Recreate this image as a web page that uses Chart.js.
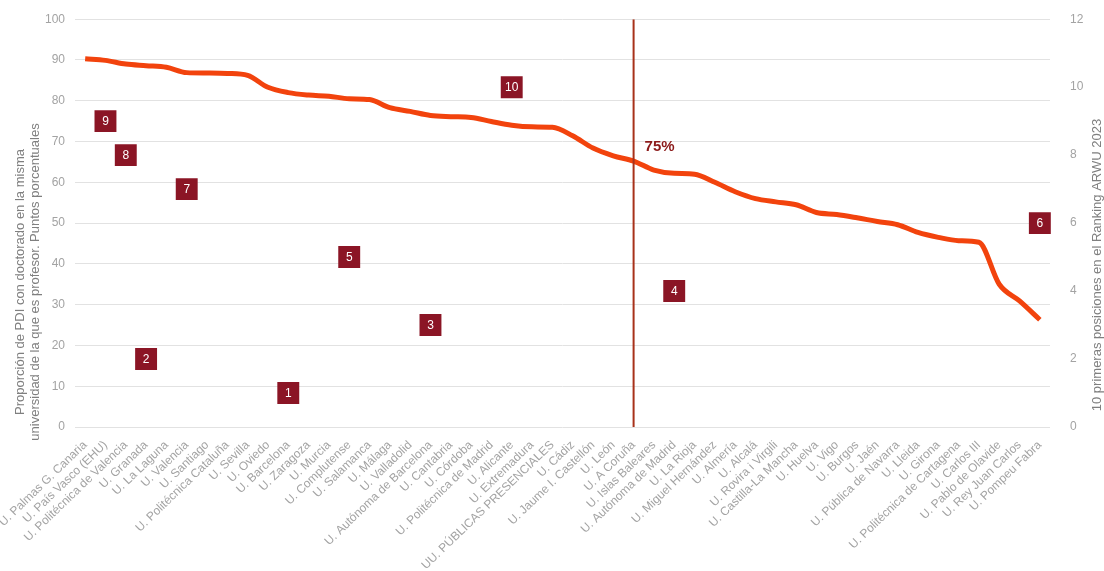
<!DOCTYPE html>
<html>
<head>
<meta charset="utf-8">
<script src="https://cdn.jsdelivr.net/npm/chart.js@4"></script>
<style>
  html, body { margin: 0; padding: 0; background: #fff; }
  #wrap { width: 1104px; height: 571px; }
</style>
</head>
<body>
<div id="wrap"><canvas id="chart" width="1104" height="571"></canvas></div>
<script>
// Universidades (eje X)
const universidades = [
    "U. Palmas G. Canaria", "U. País Vasco (EHU)", "U. Politécnica de Valencia", "U. Granada",
    "U. La Laguna", "U. Valencia", "U. Santiago", "U. Politécnica Cataluña", "U. Sevilla",
    "U. Oviedo", "U. Barcelona", "U. Zaragoza", "U. Murcia", "U. Complutense", "U. Salamanca",
    "U. Málaga", "U. Valladolid", "U. Autónoma de Barcelona", "U. Cantabria", "U. Córdoba",
    "U. Politécnica de Madrid", "U. Alicante", "U. Extremadura", "UU. PÚBLICAS PRESENCIALES",
    "U. Cádiz", "U. Jaume I. Castellón", "U. León", "U. A Coruña", "U. Islas Baleares",
    "U. Autónoma de Madrid", "U. La Rioja", "U. Miguel Hernández", "U. Almería", "U. Alcalá",
    "U. Rovira i Virgili", "U. Castilla-La Mancha", "U. Huelva", "U. Vigo", "U. Burgos",
    "U. Jaén", "U. Pública de Navarra", "U. Lleida", "U. Girona", "U. Politécnica de Cartagena",
    "U. Carlos III", "U. Pablo de Olavide", "U. Rey Juan Carlos", "U. Pompeu Fabra"
];

// Proporción de PDI con doctorado en la misma universidad (%)
const proporcion = [
    90.3, 89.9, 89.0, 88.6, 88.2, 86.9, 86.8, 86.7, 86.2, 83.3,
    82.0, 81.4, 81.1, 80.5, 80.3, 78.3, 77.4, 76.4, 76.1, 75.9,
    74.9, 74.0, 73.6, 73.5, 71.4, 68.4, 66.5, 65.2, 63.0, 62.2,
    62.0, 60.0, 57.7, 56.0, 55.2, 54.5, 52.6, 52.1, 51.3, 50.4,
    49.6, 47.7, 46.5, 45.7, 45.3, 35.0, 30.9, 26.3
];

// Posiciones en el ranking ARWU 2023 (eje derecho)
const rankingUnis = [
    "U. Barcelona", "U. Granada", "U. Autónoma de Barcelona", "U. Autónoma de Madrid", "U. Complutense",
    "U. Pompeu Fabra", "U. Valencia", "U. Politécnica de Valencia", "U. País Vasco (EHU)", "U. Alicante"
];
const rankingPos = [1, 2, 3, 4, 5, 6, 7, 8, 9, 10];

// Percentil 75
const percentilUni = "U. A Coruña";
const percentilTexto = "75%";

const yTicksLeft = [0, 10, 20, 30, 40, 50, 60, 70, 80, 90, 100];
const yTicksRight = [0, 2, 4, 6, 8, 10, 12];

const tituloIzq = ["Proporción de PDI con doctorado en la misma", "universidad de la que es profesor. Puntos porcentuales"];
const tituloDer = "10 primeras posiciones en el Ranking ARWU 2023";

const FONT = "'Liberation Sans', Arial, sans-serif";
const GRIS = "#a3a3a3";

// Dibuja números dentro de las cajas, etiqueta del percentil y títulos de ejes
const extrasPlugin = {
    id: 'extras',
    afterDatasetsDraw(chart) {
        const ctx = chart.ctx;
        // Números en las cajas
        const meta = chart.getDatasetMeta(2);
        ctx.save();
        ctx.fillStyle = '#ffffff';
        ctx.font = "12px " + FONT;
        ctx.textAlign = 'center';
        ctx.textBaseline = 'middle';
        meta.data.forEach((pt, i) => {
            ctx.fillText(String(rankingPos[i]), pt.x, pt.y + 1);
        });
        // Texto 75%
        const xPx = chart.scales.x.getPixelForValue(universidades.indexOf(percentilUni));
        ctx.fillStyle = '#8c1a1a';
        ctx.font = "bold 15px " + FONT;
        ctx.textAlign = 'left';
        ctx.fillText(percentilTexto, xPx + 11, chart.scales.y.getPixelForValue(68.7));
        ctx.restore();
    },
    afterDraw(chart) {
        const ctx = chart.ctx;
        ctx.save();
        ctx.fillStyle = '#7f7f7f';
        ctx.font = "13px " + FONT;
        ctx.textAlign = 'center';
        ctx.textBaseline = 'middle';
        ctx.translate(20, 282);
        ctx.rotate(-Math.PI / 2);
        ctx.fillText(tituloIzq[0], 0, 0);
        ctx.fillText(tituloIzq[1], 0, 15);
        ctx.restore();
        ctx.save();
        ctx.fillStyle = '#7f7f7f';
        ctx.font = "13px " + FONT;
        ctx.textAlign = 'center';
        ctx.textBaseline = 'middle';
        ctx.translate(1097, 265);
        ctx.rotate(-Math.PI / 2);
        ctx.fillText(tituloDer, 0, 0);
        ctx.restore();
    }
};

new Chart(document.getElementById('chart').getContext('2d'), {
    type: 'line',
    data: {
        labels: universidades,
        datasets: [
            {
                label: 'Proporción',
                data: proporcion,
                yAxisID: 'y',
                borderColor: '#f2430d',
                borderWidth: 5,
                pointRadius: 0,
                cubicInterpolationMode: 'monotone',
                order: 2
            },
            {
                label: 'Percentil 75',
                data: [{ x: percentilUni, y: 0 }, { x: percentilUni, y: 100 }],
                yAxisID: 'y',
                borderColor: '#a8311a',
                borderWidth: 2,
                pointRadius: 0,
                order: 1
            },
            {
                label: 'Ranking ARWU',
                data: rankingUnis.map((u, i) => ({ x: u, y: rankingPos[i] })),
                yAxisID: 'y1',
                showLine: false,
                pointStyle: 'rect',
                pointRadius: 15.5,
                pointHoverRadius: 15.5,
                backgroundColor: '#8b1525',
                borderColor: '#8b1525',
                borderWidth: 0,
                order: 0
            }
        ]
    },
    options: {
        responsive: false,
        animation: false,
        layout: { padding: { left: 40, right: 15, top: 16, bottom: 0 } },
        plugins: { legend: { display: false }, tooltip: { enabled: false } },
        scales: {
            x: {
                offset: true,
                grid: { display: false },
                border: { display: false },
                ticks: {
                    autoSkip: false,
                    maxRotation: 44,
                    minRotation: 44,
                    padding: 3,
                    color: GRIS,
                    font: { family: FONT, size: 12 }
                },
                afterFit(scale) {
                    scale.height = 144;
                    scale.paddingLeft = 0;
                    scale.paddingRight = 0;
                }
            },
            y: {
                position: 'left',
                min: 0,
                max: 100,
                afterBuildTicks(scale) { scale.ticks = yTicksLeft.map(v => ({ value: v })); },
                grid: { color: '#e2e2e2', drawTicks: false, lineWidth: 1 },
                border: { display: false },
                ticks: { padding: 10, color: GRIS, font: { family: FONT, size: 12 } },
                afterFit(scale) { scale.width = 35; }
            },
            y1: {
                position: 'right',
                min: 0,
                max: 12,
                afterBuildTicks(scale) { scale.ticks = yTicksRight.map(v => ({ value: v })); },
                grid: { display: false },
                border: { display: false },
                ticks: { padding: 12, color: GRIS, font: { family: FONT, size: 12 } },
                afterFit(scale) { scale.width = 39; }
            }
        }
    },
    plugins: [extrasPlugin]
});
</script>
</body>
</html>
